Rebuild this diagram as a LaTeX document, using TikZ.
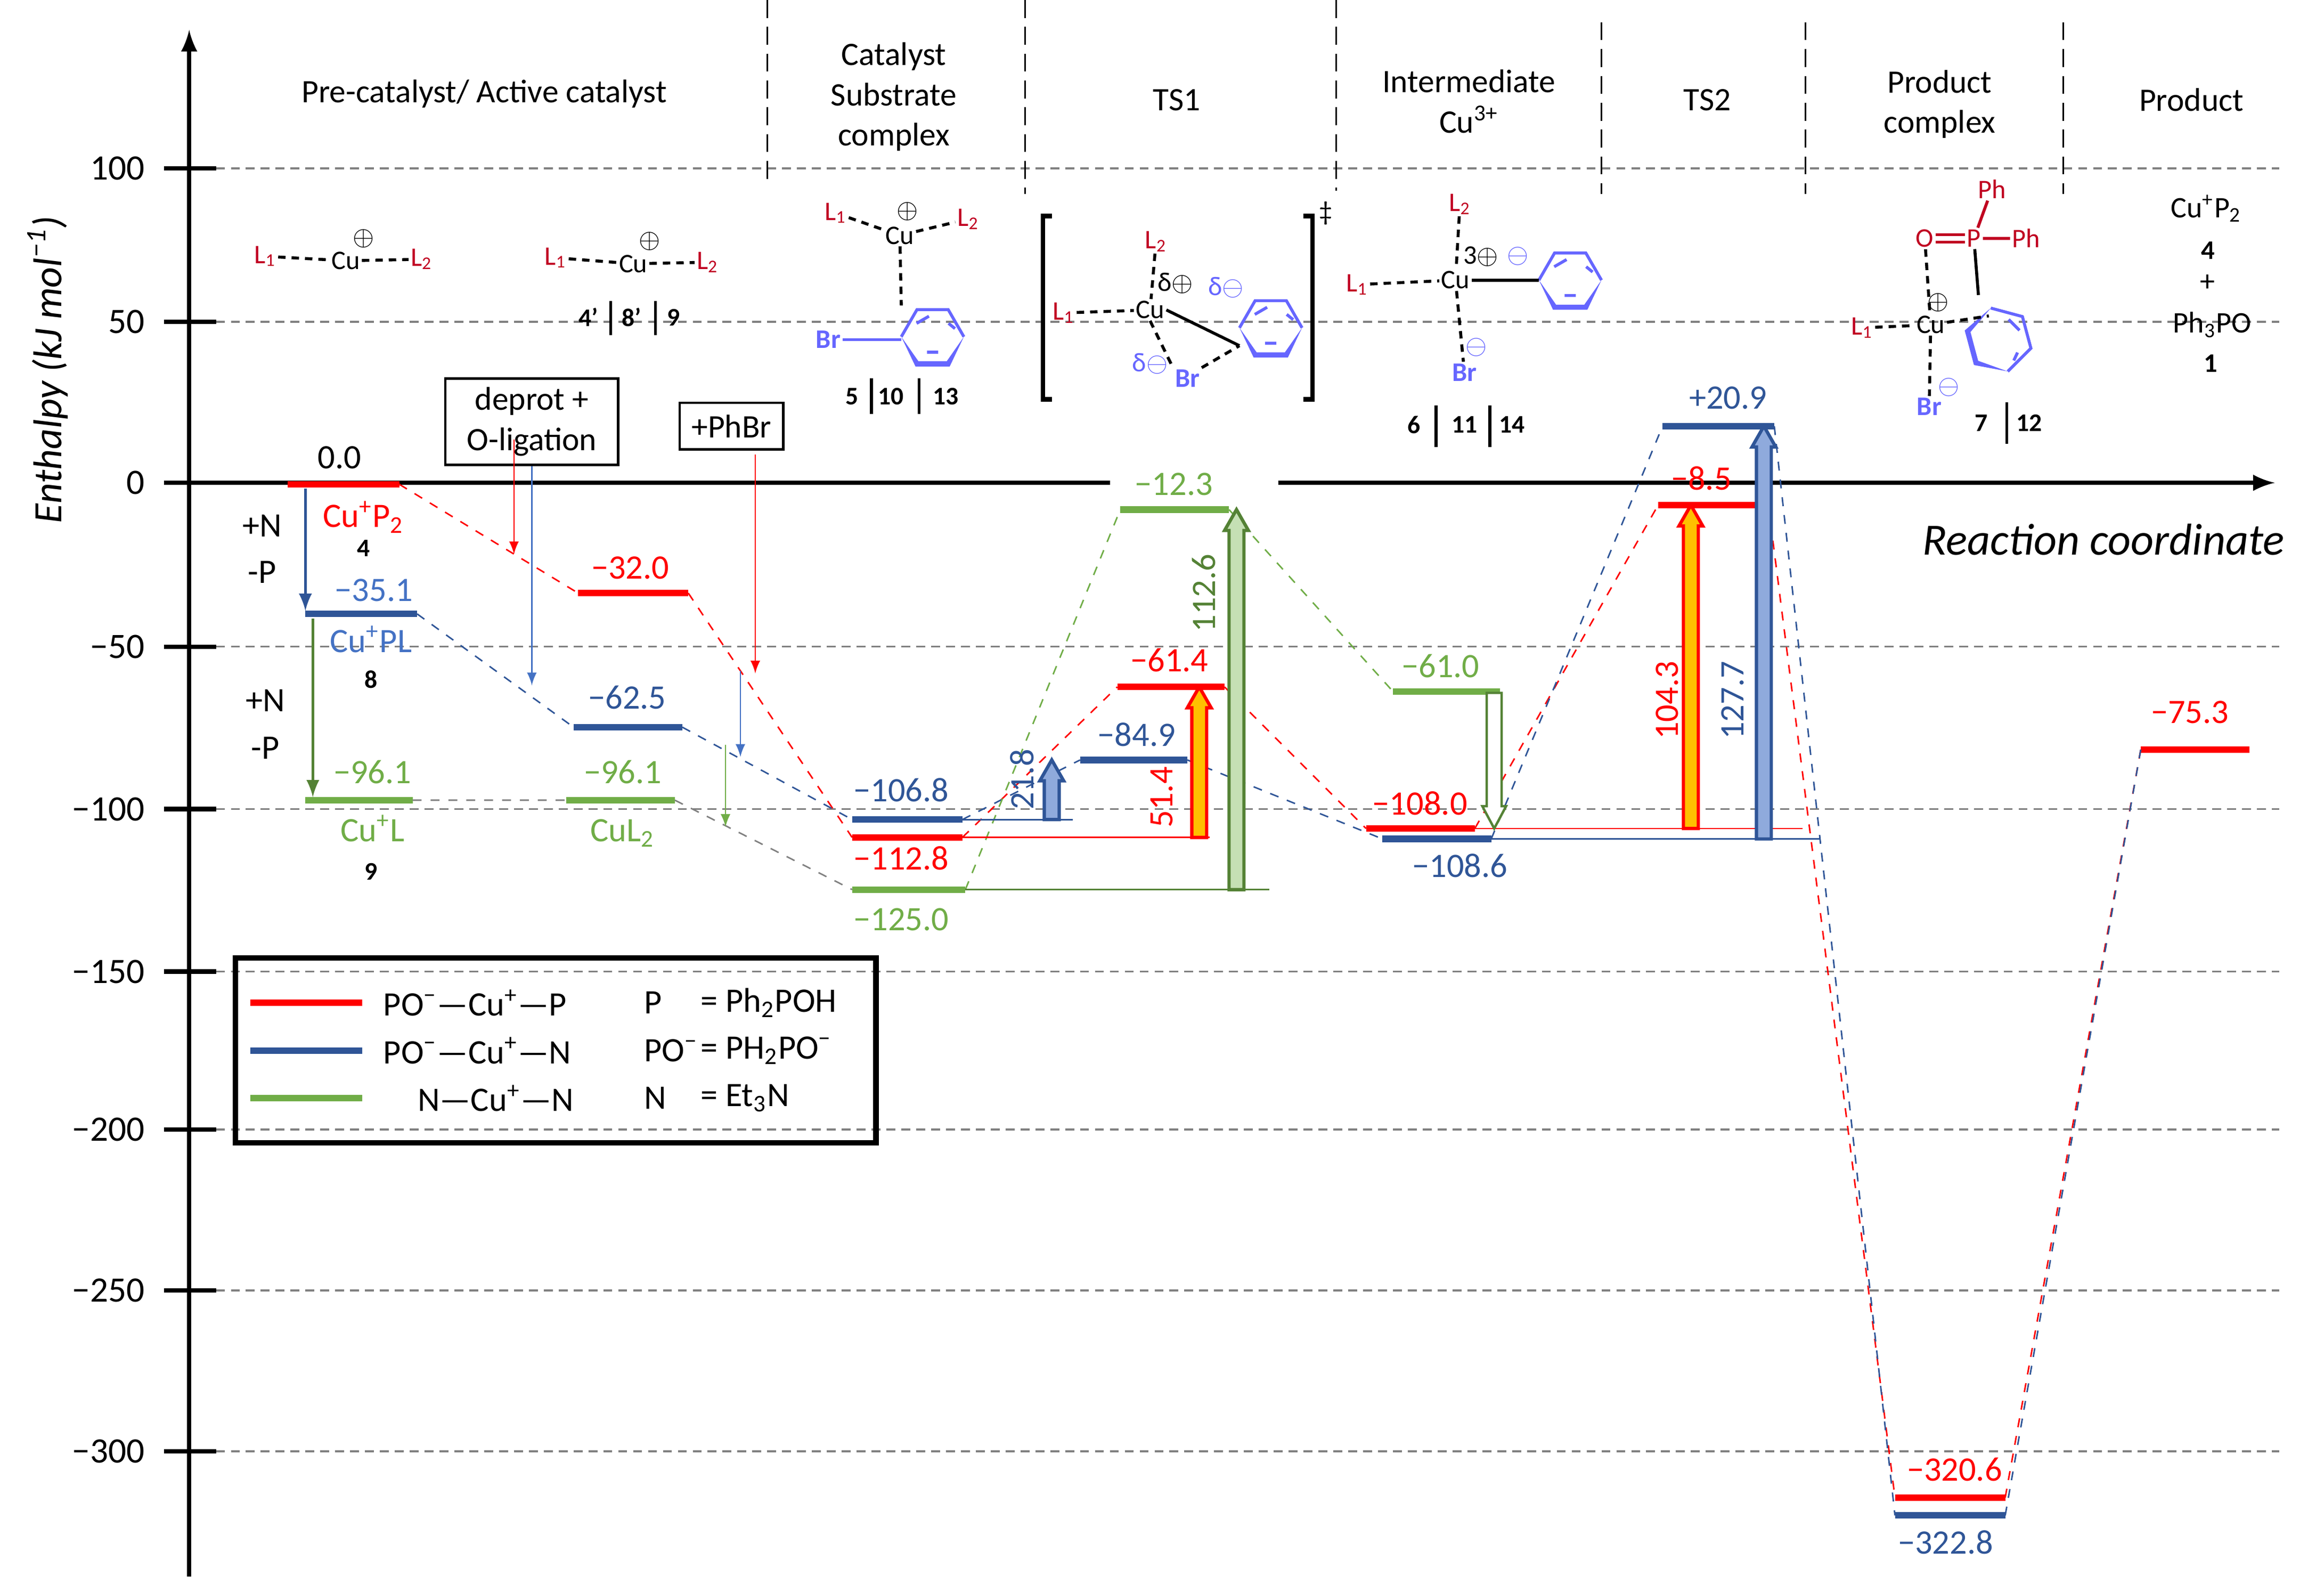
\documentclass[tikz,border=0pt]{standalone}
\usepackage{fontspec}
\setmainfont{Carlito}
\usepackage{tikz}
\usetikzlibrary{positioning}
\definecolor{rd}{RGB}{255,0,0}
\definecolor{bl}{RGB}{47,85,151}
\definecolor{lb}{RGB}{68,114,196}
\definecolor{gr}{RGB}{112,173,71}
\definecolor{dgr}{RGB}{84,130,53}
\definecolor{sred}{RGB}{192,0,32}
\definecolor{sblue}{RGB}{102,102,255}
\definecolor{yel}{RGB}{255,192,0}
\definecolor{lgr}{RGB}{197,224,180}
\definecolor{lbl}{RGB}{143,170,220}
\tikzset{
  bar/.style={line width=2.2pt},
  conn/.style={dashed,line width=0.5pt},
  thin ref/.style={line width=0.5pt},
  grid line/.style={densely dashed,gray,line width=0.6pt},
  sep/.style={dashed,line width=0.5pt,dash pattern=on 6pt off 3pt},
  val/.style={font=\fontsize{11.5}{13}\selectfont,inner sep=1pt},
  head/.style={font=\fontsize{11}{13.5}\selectfont,align=center},
  st/.style={font=\fontsize{9}{10}\selectfont,inner sep=0.5pt},
  num/.style={font=\bfseries\fontsize{8.5}{9}\selectfont,inner sep=0.5pt},
  bond/.style={line width=1pt},
  dbond/.style={dashed,line width=1pt,dash pattern=on 2.5pt off 2pt},
  ring/.style={sblue,line width=1pt},
  tick/.style={font=\fontsize{12}{14}\selectfont,anchor=east},
  small arrow/.style={-latex,line width=0.5pt}
}
\newcommand\lvl[5]{\coordinate (#1-l) at (#2,#4); \coordinate (#1-r) at (#3,#4);
  \draw[bar,#5] (#1-l) -- (#1-r);}
\newcommand\fat[5]{\filldraw[fill=#4,draw=#5,line width=1.1pt]
  (#1-5,#2) -- (#1-5,#3+14) -- (#1-8,#3+14) -- (#1,#3) -- (#1+8,#3+14) -- (#1+5,#3+14) -- (#1+5,#2) -- cycle;}
\newcommand\benz[3]{% x, y, rotation
  \begin{scope}[shift={(#1,#2)},rotate=#3]
    \draw[ring] (0:21) -- (-60:21) -- (-120:21) -- (180:21);
    \fill[sblue] (180:21) -- (120:23) -- (60:23) -- (0:21) -- (60:19) -- (120:19) -- cycle;
    \draw[ring] (-100:14) -- (-140:14) (-40:14) -- (-20:16) (70:11) -- (110:11);
  \end{scope}}
\begin{document}
\begin{tikzpicture}[x=0.5pt,y=-0.5pt]
\useasboundingbox (0,0) rectangle (1560,1063);

% grid lines and ticks
\foreach \yy/\lab in {113/100,216/50,434/−50,543/−100,652/−150,758/−200,866/−250,974/−300}{
  \draw[grid line] (145,\yy) -- (1530,\yy);
  \draw[line width=1.5pt] (110,\yy) -- (145,\yy);
  \node[tick] at (104,\yy) {\lab};
}
\draw[line width=1.5pt] (110,324) -- (127,324);
\node[tick] at (104,324) {0};

% column separators
\foreach \xx/\ya/\yb in {515/0/125,688/0/130,897/0/128,1075/15/130,1212/15/130,1385/15/130}
  \draw[sep] (\xx,\ya) -- (\xx,\yb);

% axes
\draw[line width=1.5pt,-latex] (127,1058) -- (127,20);
\draw[line width=1.5pt] (127,324) -- (745,324);
\draw[line width=1.5pt,-latex] (858,324) -- (1527,324);
\node[rotate=90,font=\itshape\fontsize{13.5}{15}\selectfont] at (32,248) {Enthalpy (kJ mol\textsuperscript{−1})};
\node[font=\itshape\fontsize{15}{17}\selectfont] (xlab) at (1412,362) {Reaction coordinate};

% headers
\node[head] (h1) at (325,63) {Pre-catalyst/ Active catalyst};
\node[head] (h2) at (600,65) {Catalyst\\Substrate\\complex};
\node[head] (h3) at (790,67) {TS1};
\node[head] (h4) at (986,68) {Intermediate\\Cu\textsuperscript{3+}};
\node[head] (h5) at (1146,67) {TS2};
\node[head] (h6) at (1302,70) {Product\\complex};
\node[head] (h7) at (1471,67) {Product};

% structures: active catalyst
\node[st,sred] (a1) at (178,172) {L\textsubscript{1}};
\node[st] (a2) at (232,175) {Cu};
\node[st] at (244,160) {$\oplus$};
\node[st,sred] (a3) at (283,174) {L\textsubscript{2}};
\draw[dbond] (a1) -- (a2) -- (a3);
\node[st,sred] (b1) at (373,173) {L\textsubscript{1}};
\node[st] (b2) at (425,177) {Cu};
\node[st] at (436,162) {$\oplus$};
\node[st,sred] (b3) at (475,176) {L\textsubscript{2}};
\draw[dbond] (b1) -- (b2) -- (b3);
\node[num] at (395,213) {4’};
\node[num] at (424,213) {8’};
\node[num] at (452,213) {9};
\draw[line width=1pt] (410,202) -- (410,225) (440,202) -- (440,225);

% catalyst substrate complex
\node[st,sred] (c1) at (561,143) {L\textsubscript{1}};
\node[st] (c2) at (604,158) {Cu};
\node[st] at (609,142) {$\oplus$};
\node[st,sred] (c3) at (650,147) {L\textsubscript{2}};
\draw[dbond] (c1) -- (c2) -- (c3);
\benz{626}{226}{0}
\draw[dbond] (c2) -- (605,205);
\node[st,sblue,font=\bfseries\fontsize{9}{10}\selectfont] (c4) at (556,228) {Br};
\draw[ring] (c4) -- (605,228);
\node[num] at (572,266) {5};
\node[num] at (598,266) {10};
\node[num] at (635,266) {13};
\draw[line width=1pt] (585,254) -- (585,278) (617,254) -- (617,278);

% TS1
\draw[line width=1.5pt] (706,145) -- (700,145) -- (700,268) -- (706,268);
\draw[line width=1.5pt] (875,145) -- (881,145) -- (881,268) -- (875,268);
\node[st] at (890,143) {‡};
\node[st,sred] (d1) at (714,210) {L\textsubscript{1}};
\node[st] (d2) at (772,208) {Cu};
\node[st,sred] (d3) at (776,162) {L\textsubscript{2}};
\node[st] at (789,190) {δ$\oplus$};
\node[st,sblue] at (823,193) {δ$\ominus$};
\draw[dbond] (d1) -- (d2);
\draw[dbond] (d3) -- (d2);
\benz{853}{220}{0}
\coordinate (d5) at (832,232);
\draw[bond] (d2.east) -- (d5);
\node[st,sblue] at (772,244) {δ$\ominus$};
\node[st,sblue,font=\bfseries\fontsize{9}{10}\selectfont] (d4) at (797,254) {Br};
\draw[dbond] (d2.south) -- (d4.north west);
\draw[dbond] (d4.north east) -- (d5);

% intermediate
\node[st,sred] (e1) at (911,191) {L\textsubscript{1}};
\node[st] (e2) at (977,188) {Cu};
\node[st,sred] (e3) at (980,137) {L\textsubscript{2}};
\node[st] at (994,172) {3$\oplus$};
\node[st,sblue] at (1019,172) {$\ominus$};
\draw[dbond] (e1) -- (e2);
\draw[dbond] (e3) -- (e2);
\benz{1054}{188}{0}
\draw[bond] (e2) -- (1033,188);
\node[st,sblue,font=\bfseries\fontsize{9}{10}\selectfont] (e4) at (983,250) {Br};
\node[st,sblue] at (991,233) {$\ominus$};
\draw[dbond] (e2) -- (e4);
\node[num] at (949,285) {6};
\node[num] at (983,285) {11};
\node[num] at (1015,285) {14};
\draw[line width=1pt] (964,272) -- (964,300) (1000,272) -- (1000,300);

% product complex
\node[st,sred] (f1) at (1337,127) {Ph};
\node[st,sred] (f2) at (1292,160) {O};
\node[st,sred] (f3) at (1325,160) {P};
\node[st,sred] (f4) at (1360,160) {Ph};
\draw[sred,line width=1pt] (f1) -- (f3) (f3) -- (f4);
\draw[sred,line width=1pt,double,double distance=1.5pt] (f2) -- (f3);
\node[st] (f5) at (1296,218) {Cu};
\node[st] at (1301,203) {$\oplus$};
\node[st,sred] (f6) at (1250,220) {L\textsubscript{1}};
\draw[dbond] (f6) -- (f5);
\draw[dbond] (f2) -- (f5);
\begin{scope}[shift={(1342,228)},rotate=-75]
  \draw[ring] (0:22) -- (-60:22) -- (-120:22) -- (180:22);
  \fill[sblue] (180:22) -- (120:24) -- (60:24) -- (0:22) -- (60:20) -- (120:20) -- cycle;
  \draw[ring] (-100:15) -- (-140:15) (-40:15) -- (-20:17);
\end{scope}
\draw[bond] (f3) -- (1328,198);
\draw[dbond] (f5) -- (1335,212);
\node[st,sblue,font=\bfseries\fontsize{9}{10}\selectfont] (f7) at (1295,273) {Br};
\node[st,sblue] at (1308,260) {$\ominus$};
\draw[dbond] (f5) -- (f7);
\node[num] at (1330,284) {7};
\node[num] at (1362,284) {12};
\draw[line width=1pt] (1347,270) -- (1347,298);

% product
\node[head,font=\fontsize{10}{11}\selectfont] at (1481,140) {Cu\textsuperscript{+}P\textsubscript{2}};
\node[num,font=\bfseries\fontsize{9}{9}\selectfont] at (1482,168) {4};
\node[head,font=\fontsize{10}{11}\selectfont] at (1482,190) {+};
\node[head,font=\fontsize{10}{11}\selectfont] at (1485,218) {Ph\textsubscript{3}PO};
\node[num,font=\bfseries\fontsize{9}{9}\selectfont] at (1484,244) {1};

% levels
\lvl{r1}{193}{268}{325}{rd}
\lvl{b1}{205}{280}{412}{bl}
\lvl{g1}{205}{277}{537}{gr}
\lvl{r2}{388}{462}{398}{rd}
\lvl{b2}{385}{458}{488}{bl}
\lvl{g2}{380}{453}{537}{gr}
\lvl{b3}{572}{646}{550}{bl}
\lvl{r3}{572}{646}{562}{rd}
\lvl{g3}{572}{648}{597}{gr}
\lvl{b4}{725}{797}{510}{bl}
\lvl{r4}{750}{822}{461}{rd}
\lvl{g4}{752}{825}{342}{gr}
\lvl{g5}{935}{1007}{464}{gr}
\lvl{r5}{917}{990}{556}{rd}
\lvl{b5}{928}{1001}{563}{bl}
\lvl{b6}{1116}{1191}{286}{bl}
\lvl{r6}{1113}{1187}{339}{rd}
\lvl{r7}{1272}{1346}{1005}{rd}
\lvl{b7}{1272}{1346}{1017}{bl}
\lvl{r8}{1437}{1510}{503}{rd}

% connectors
\draw[conn,rd] (r1-r) -- (r2-l) (r2-r) -- (r3-l) (r3-r) -- (r4-l) (r4-r) -- (r5-l)
  (r5-r) -- (r6-l) (r6-r) -- (r7-l) (r7-r) -- (r8-l);
\draw[conn,bl] (b1-r) -- (b2-l) (b2-r) -- (b3-l) (b3-r) -- (b4-l) (b4-r) -- (b5-l)
  (b5-r) -- (b6-l) (b6-r) -- (b7-l) (b7-r) -- (r8-l);
\draw[conn,gr] (g3-r) -- (g4-l) (g4-r) -- (g5-l);
\draw[conn,gray] (g1-r) -- (g2-l) (g2-r) -- (g3-l);

% reference lines
\draw[thin ref,bl] (b3-r) -- (720,550);
\draw[thin ref,rd] (r3-r) -- (812,562);
\draw[thin ref,dgr] (g3-r) -- (852,597);
\draw[thin ref,rd] (r5-r) -- (1210,556);
\draw[thin ref,bl] (b5-r) -- (1222,563);

% barrier arrows
\fat{706}{550}{510}{lbl}{bl}
\fat{805}{562}{461}{yel}{rd}
\fat{830}{597}{342}{lgr}{dgr}
\fat{1135}{556}{339}{yel}{rd}
\fat{1184}{563}{286}{lbl}{bl}
\filldraw[fill=white,draw=dgr,line width=0.8pt]
  (998,465) -- (998,541) -- (995,541) -- (1003,556) -- (1011,541) -- (1008,541) -- (1008,465) -- cycle;
\node[val,rotate=90,bl] at (686,523) {21.8};
\node[val,rotate=90,rd] at (780,535) {51.4};
\node[val,rotate=90,dgr] at (808,398) {112.6};
\node[val,rotate=90,rd] at (1119,470) {104.3};
\node[val,rotate=90,bl] at (1163,470) {127.7};

% level labels
\node[val] at (228,307) {0.0};
\node[val,lb] at (251,396) {−35.1};
\node[val,gr] at (250,518) {−96.1};
\node[val,rd] at (423,381) {−32.0};
\node[val,bl] at (421,468) {−62.5};
\node[val,gr] at (418,518) {−96.1};
\node[val,bl] at (605,530) {−106.8};
\node[val,rd] at (605,576) {−112.8};
\node[val,gr] at (605,617) {−125.0};
\node[val,bl] at (763,493) {−84.9};
\node[val,rd] at (785,443) {−61.4};
\node[val,gr] at (788,325) {−12.3};
\node[val,gr] at (967,447) {−61.0};
\node[val,rd] at (953,539) {−108.0};
\node[val,bl] at (980,581) {−108.6};
\node[val,bl] at (1160,267) {+20.9};
\node[val,rd] at (1142,321) {−8.5};
\node[val,rd] at (1470,478) {−75.3};
\node[val,rd] at (1312,986) {−320.6};
\node[val,bl] at (1306,1035) {−322.8};

% species labels
\node[val,rd] at (244,347) {Cu\textsuperscript{+}P\textsubscript{2}};
\node[num] at (244,368) {4};
\node[val,lb] at (249,429) {Cu\textsuperscript{+}PL};
\node[num] at (249,456) {8};
\node[val,gr] at (250,556) {Cu\textsuperscript{+}L};
\node[num] at (249,585) {9};
\node[val,gr] at (418,559) {CuL\textsubscript{2}};

% ligand exchange arrows
\draw[-latex,bl,line width=1pt] (205,328) -- (205,410);
\draw[-latex,dgr,line width=1pt] (210,415) -- (210,535);
\node[val] at (176,353) {+N};
\node[val] at (176,384) {-P};
\node[val] at (178,470) {+N};
\node[val] at (178,502) {-P};

% reagent boxes
\node[draw,line width=0.8pt,head,inner sep=3pt,minimum width=58pt] (dep) at (357,283) {deprot +\\O-ligation};
\node[draw,line width=0.8pt,head,inner sep=4pt] (phb) at (491,286) {+PhBr};
\draw[small arrow,rd] (345,295) -- (345,372);
\draw[small arrow,lb] (357,313) -- (357,460);
\draw[small arrow,rd] (507,305) -- (507,452);
\draw[small arrow,lb] (497,450) -- (497,508);
\draw[small arrow,gr] (487,500) -- (487,555);

% legend
\draw[line width=1.8pt] (158,643) rectangle (588,767);
\draw[bar,rd] (168,673) -- (243,673);
\draw[bar,bl] (168,705) -- (243,705);
\draw[bar,gr] (168,737) -- (243,737);
\node[val,anchor=west] at (255,673) {PO\textsuperscript{−}—Cu\textsuperscript{+}—P};
\node[val,anchor=west] at (255,705) {PO\textsuperscript{−}—Cu\textsuperscript{+}—N};
\node[val,anchor=west] at (278,737) {N—Cu\textsuperscript{+}—N};
\node[val,anchor=west] at (430,673) {P};
\node[val,anchor=west] at (430,705) {PO\textsuperscript{−}};
\node[val,anchor=west] at (430,737) {N};
\node[val,anchor=west] at (468,673) {= Ph\textsubscript{2}POH};
\node[val,anchor=west] at (468,705) {= PH\textsubscript{2}PO\textsuperscript{−}};
\node[val,anchor=west] at (468,737) {= Et\textsubscript{3}N};
\end{tikzpicture}
\end{document}
